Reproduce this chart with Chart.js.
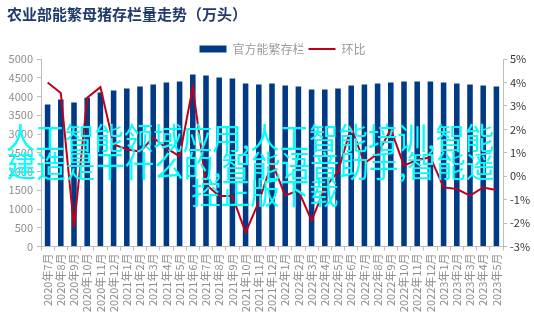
<!DOCTYPE html>
<html>
<head>
<meta charset="utf-8">
<script src="https://cdn.jsdelivr.net/npm/chart.js@4"></script>
<style>
  html, body { margin: 0; padding: 0; background: #fff; }
  #wrap { position: relative; width: 534px; height: 326px; }
  .wm {
    position: absolute; white-space: nowrap; color: #00ffff;
    font: 29.5px/28px "Noto Sans CJK SC", sans-serif;
    pointer-events: none; transform: translateX(-50%);
  }
</style>
</head>
<body>
<div id="wrap">
  <canvas id="chart" width="534" height="326"></canvas>
  <div class="wm" style="left:250px; top:122px">人工智能领域应用,人工智能培训,智能</div>
  <div class="wm" style="left:251px; top:150px">建造是干什么的,智能语音助手,智能遥</div>
  <div class="wm" style="left:265px; top:177px">控正版下载</div>
</div>
<script>
// -------------------- DATA --------------------
const months = [
  "2020年7月", "2020年8月", "2020年9月", "2020年10月", "2020年11月", "2020年12月",
  "2021年1月", "2021年2月", "2021年3月", "2021年4月", "2021年5月", "2021年6月",
  "2021年7月", "2021年8月", "2021年9月", "2021年10月", "2021年11月", "2021年12月",
  "2022年1月", "2022年2月", "2022年3月", "2022年4月", "2022年5月", "2022年6月",
  "2022年7月", "2022年8月", "2022年9月", "2022年10月", "2022年11月", "2022年12月",
  "2023年1月", "2023年2月", "2023年3月", "2023年4月", "2023年5月"
];
// 官方能繁存栏 (万头)
const sowStock = [
  3790, 3920, 3840, 3970, 4110, 4160, 4215, 4270, 4320, 4375, 4400, 4585,
  4560, 4510, 4480, 4350, 4320, 4350, 4295, 4270, 4190, 4190, 4215, 4295,
  4320, 4350, 4375, 4400, 4400, 4400, 4375, 4350, 4320, 4295, 4270
];
// 环比 (%)
const momChange = [
  4.0, 3.55, -2.2, 3.35, 3.8, 1.35, 1.15, 1.05, 1.65, 1.2, 0.85, 3.8,
  -0.35, -0.85, -0.85, -2.4, -1.1, 0.6, -0.83, -0.6, -1.9, -0.5, 0.2, 2.1,
  0.55, 0.95, 2.0, 0.45, 0.7, 0.8, -0.48, -0.55, -0.83, -0.48, -0.59
];

const BLUE = "#003a84";
const RED = "#c0001a";
const GREY = "#8e8e8e";
const AXIS = "#bdbdbd";
const FONT = '"Noto Sans CJK SC", "Noto Sans", sans-serif';

// nudge the legend to where the original sits (drawing only)
const legendNudge = {
  id: "legendNudge",
  afterLayout(chart) {
    const lg = chart.legend;
    if (!lg) return;
    lg.left += 12; lg.right += 12;
    lg.top += 6; lg.bottom += 6;
  }
};

const ctx = document.getElementById("chart").getContext("2d");
new Chart(ctx, {
  data: {
    labels: months,
    datasets: [
      {
        type: "line",
        label: "环比",
        data: momChange,
        yAxisID: "yRight",
        borderColor: RED,
        backgroundColor: RED,
        borderWidth: 2,
        pointRadius: 0,
        tension: 0,
        order: 0
      },
      {
        type: "bar",
        label: "官方能繁存栏",
        data: sowStock,
        yAxisID: "yLeft",
        backgroundColor: BLUE,
        barPercentage: 0.42,
        categoryPercentage: 1,
        order: 1
      }
    ]
  },
  plugins: [legendNudge],
  options: {
    responsive: false,
    animation: false,
    layout: { padding: { left: 7 } },
    plugins: {
      title: {
        display: true,
        text: "农业部能繁母猪存栏量走势（万头）",
        align: "start",
        color: "#1f3a6b",
        font: { family: FONT, size: 15, weight: "bold" },
        padding: { top: 5, bottom: 10 }
      },
      legend: {
        display: true,
        labels: {
          color: "#9a9a9a",
          font: { family: FONT, size: 12 },
          boxWidth: 27,
          boxHeight: 7,
          padding: 4,
          usePointStyle: true,
          pointStyleWidth: 27,
          generateLabels: () => [
            { text: "官方能繁存栏", fillStyle: BLUE, strokeStyle: BLUE, lineWidth: 0, pointStyle: "rect", datasetIndex: 1, fontColor: "#9a9a9a" },
            { text: "环比", fillStyle: RED, strokeStyle: RED, lineWidth: 2, pointStyle: "line", datasetIndex: 0, fontColor: "#9a9a9a" }
          ]
        }
      },
      tooltip: { enabled: false }
    },
    scales: {
      x: {
        grid: { display: true, drawOnChartArea: false, drawTicks: true, tickLength: 4, color: AXIS },
        border: { color: AXIS },
        ticks: {
          autoSkip: false, minRotation: 90, maxRotation: 90,
          color: GREY, font: { family: FONT, size: 11 }, padding: 3
        },
        afterFit: (s) => { s.height = 79.5; }
      },
      yLeft: {
        position: "left",
        min: 0, max: 5000,
        grid: { display: true, drawOnChartArea: false, drawTicks: true, tickLength: 4, color: AXIS },
        border: { color: AXIS },
        ticks: {
          stepSize: 500, color: GREY, font: { family: FONT, size: 11 }, padding: 4,
          callback: (v) => String(v)
        },
        afterFit: (s) => { s.width = 34; }
      },
      yRight: {
        position: "right",
        min: -3, max: 5,
        grid: { display: true, drawOnChartArea: false, drawTicks: true, tickLength: 4, color: AXIS },
        border: { color: AXIS },
        ticks: {
          stepSize: 1, color: "#333", font: { family: FONT, size: 11 }, padding: 3,
          callback: (v) => v + "%"
        },
        afterFit: (s) => { s.width = 31; }
      }
    }
  }
});
</script>
</body>
</html>
